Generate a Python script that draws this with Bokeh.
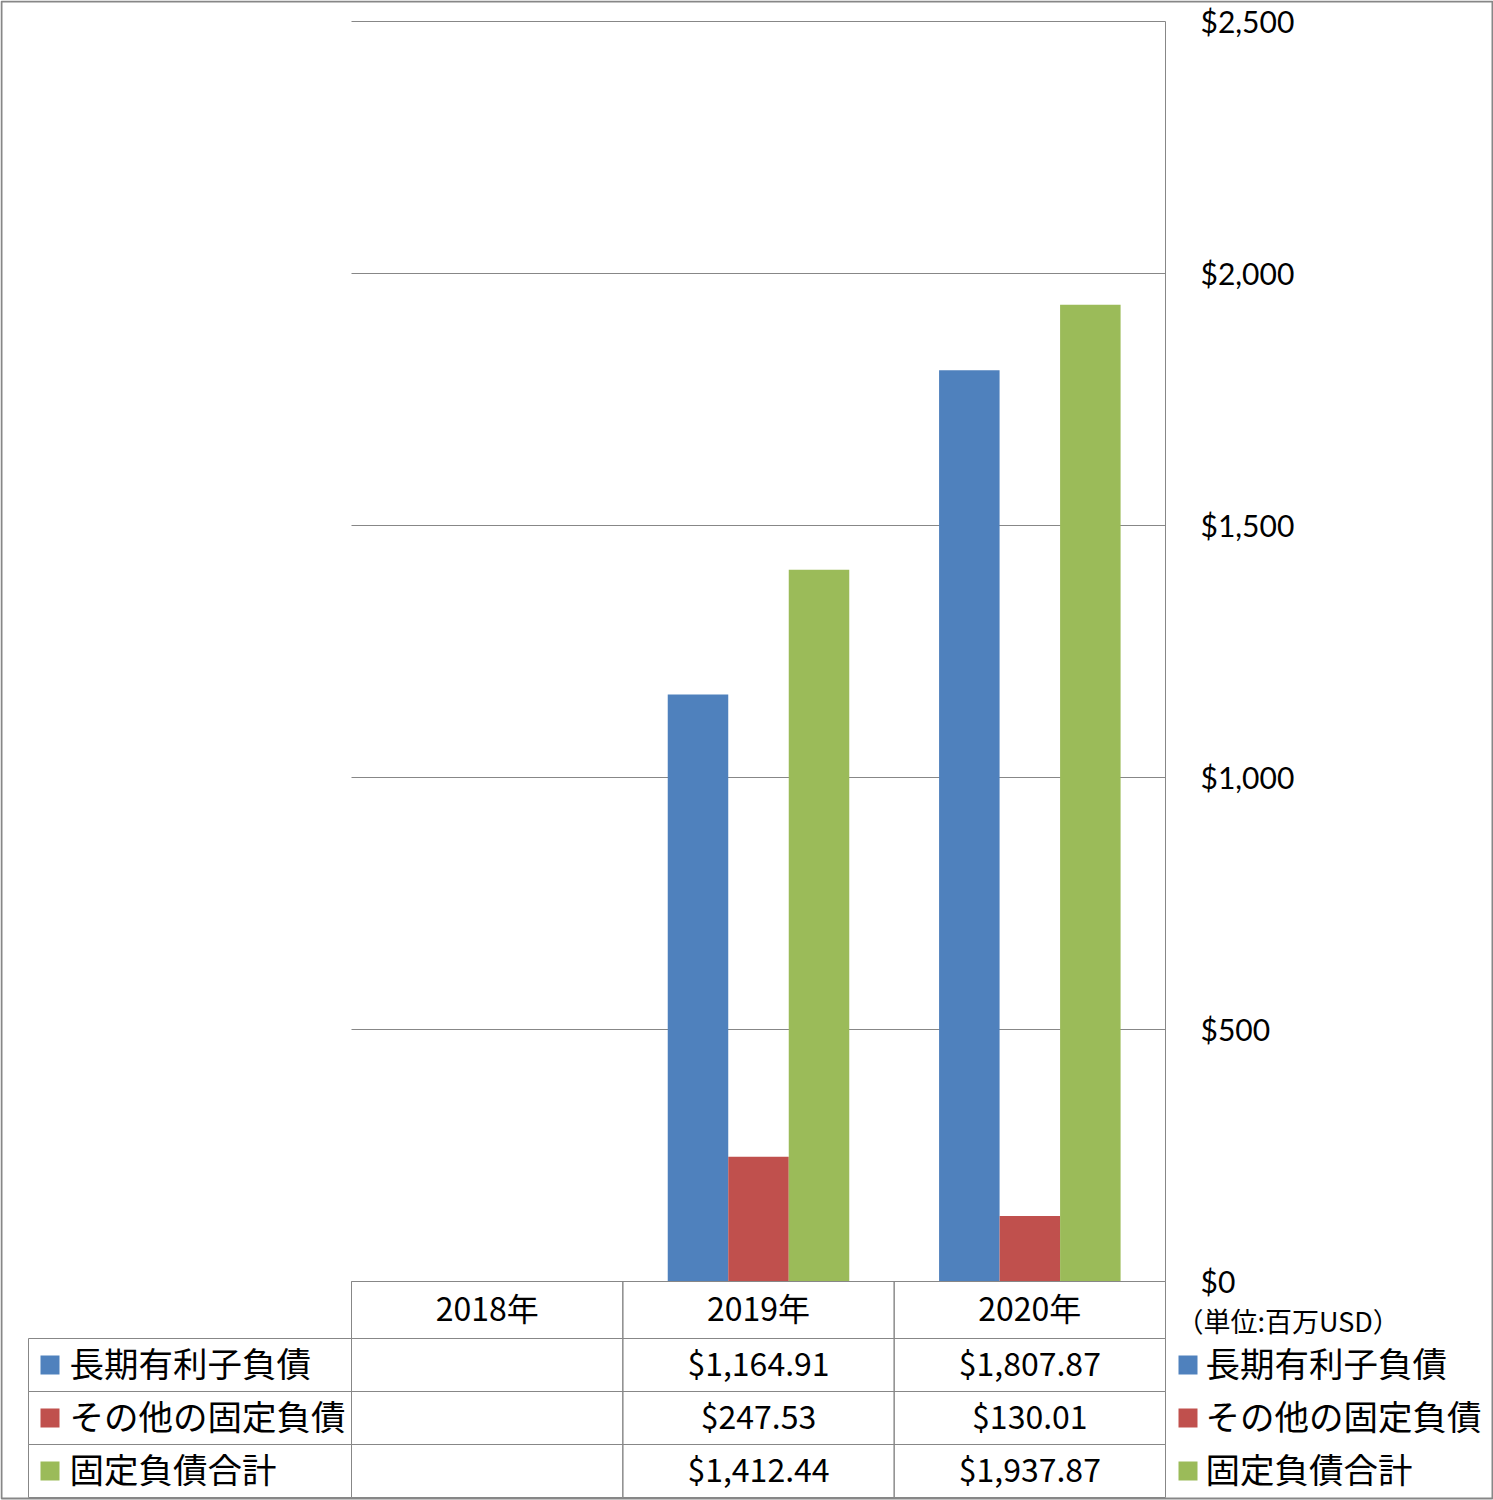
import numpy as np
from bokeh.plotting import figure
from bokeh.models import Range1d, ColumnDataSource
from bokeh.core.properties import value
from bokeh.transform import dodge
from bokeh.embed import file_html
from bokeh.resources import INLINE

# ---- data ----
years = ["2018年", "2019年", "2020年"]
series_names = ["長期有利子負債", "その他の固定負債", "固定負債合計"]
long_term_debt = [np.nan, 1164.91, 1807.87]
other_fixed = [np.nan, 247.53, 130.01]
total_fixed = [np.nan, 1412.44, 1937.87]
colors = ["#4F81BD", "#C0504D", "#9BBB59"]
y_ticks = [0, 500, 1000, 1500, 2000, 2500]
unit_note = "（単位:百万USD）"

series = [long_term_debt, other_fixed, total_fixed]
keys = ["s0", "s1", "s2"]

# ---- layout constants (pixels) ----
W, H = 1493, 1500
L, R, T, B = 351, 1165, 21, 1281          # plot area box
YMAX = 2500.0
FONT = "Noto Sans CJK JP"
AXFONT = "Lato"
GRAY = "#878787"
n = len(years)
cw = (R - L) / n                          # px per category
k = (B - T) / YMAX                        # px per value unit

p = figure(width=W, height=H,
           x_range=Range1d(-L / cw, (W - L) / cw),
           y_range=Range1d(-(H - B) / k, YMAX + T / k),
           x_axis_location=None, y_axis_location=None,
           output_backend="svg", toolbar_location=None, min_border=0)
p.extra_x_ranges = {"px": Range1d(0, W)}
p.extra_y_ranges = {"px": Range1d(H, 0)}
p.background_fill_color = "white"
p.border_fill_color = "white"
p.outline_line_color = None
p.grid.visible = False

PX = dict(x_range_name="px", y_range_name="px")
PY = dict(y_range_name="px")

# ---- gridlines + value axis ----
tick_src = ColumnDataSource(dict(y=y_ticks, lab=[f"${t:,.0f}" for t in y_ticks]))
p.segment(x0=0, x1=n, y0="y", y1="y", source=tick_src, line_color=GRAY, line_width=1)
p.segment(x0=[n], x1=[n], y0=[0], y1=[YMAX], line_color=GRAY, line_width=1)
p.text(x=n, y="y", text="lab", source=tick_src, x_offset=35, y_offset=-1,
       text_font=value(AXFONT), text_font_size="30px", text_align="left",
       text_baseline="middle", text_color="black")

# ---- bars ----
src = ColumnDataSource(dict(xc=[i + 0.5 for i in range(n)],
                            **{kk: np.array(v, dtype=float) for kk, v in zip(keys, series)}))
bw = 0.223
for i, kk in enumerate(keys):
    p.vbar(x=dodge("xc", (i - 1) * bw), top=kk, bottom=0, width=bw,
           source=src, fill_color=colors[i], line_color=None)


def txt(x, y, s, size, align="center", **kw):
    p.text(x=[x], y=[y], text=[s], text_font=value(FONT), text_font_size=size,
           text_align=align, text_baseline="middle", text_color="black", **kw)


# ---- data table ----
hdr_top, hdr_bot = B, 1338
row_h = 53
p.quad(left=list(range(n)), right=list(range(1, n + 1)), top=[hdr_top] * n, bottom=[hdr_bot] * n,
       fill_color=None, line_color=GRAY, line_width=1, **PY)
for j in range(n):
    txt(j + 0.5, (hdr_top + hdr_bot) / 2 - 3, years[j], "32px", **PY)

for i, name in enumerate(series_names):
    t = hdr_bot + i * row_h
    b = t + row_h
    cy = (t + b) / 2
    p.quad(left=list(range(n)), right=list(range(1, n + 1)), top=[t] * n, bottom=[b] * n,
           fill_color=None, line_color=GRAY, line_width=1, **PY)
    p.quad(left=[28], right=[L], top=[t], bottom=[b], fill_color=None,
           line_color=GRAY, line_width=1, **PX)
    for j in range(n):
        v = series[i][j]
        if not np.isnan(v):
            txt(j + 0.5, cy - 3, f"${v:,.2f}", "32px", **PY)
    # legend keys (left: table keys, right: chart legend)
    for kx, tx in ((40, 69), (1178, 1205)):
        p.quad(left=[kx], right=[kx + 19], top=[cy - 9.5], bottom=[cy + 9.5],
               fill_color=colors[i], line_color=None, **PX)
        txt(tx, cy - 3, name, "34.5px", align="left", **PX)

txt(1176, 1321 - 1, unit_note, "27px", align="left", **PX)

# outer chart border
p.quad(left=[1], right=[W - 1], top=[1], bottom=[H - 2], fill_color=None,
       line_color=GRAY, line_width=2, **PX)

open("out.html", "w").write(file_html(p, INLINE))
